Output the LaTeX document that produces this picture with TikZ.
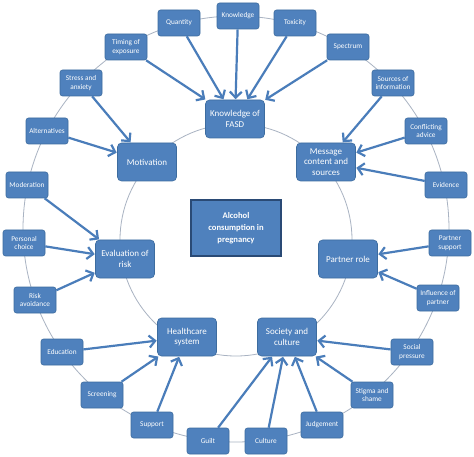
\documentclass[tikz,border=0pt]{standalone}
\usepackage{fontspec}
\setmainfont{Carlito}
\usetikzlibrary{arrows.meta}
\definecolor{boxblue}{HTML}{4F81BD}
\definecolor{boxedge}{HTML}{3D6C9F}
\definecolor{darkedge}{HTML}{2A4A75}
\definecolor{ring}{HTML}{A9B3C2}
\definecolor{arrowblue}{HTML}{4A7DBA}
\tikzset{
  smallbox/.style={draw=boxedge, line width=0.6pt, fill=boxblue, rounded corners=2.5pt,
    minimum width=42pt, minimum height=26pt, inner sep=1pt, align=center,
    text=white, font=\fontsize{7.3}{8.6}\selectfont},
  mainbox/.style={draw=boxedge, line width=0.6pt, fill=boxblue, rounded corners=4pt,
    minimum width=59pt, minimum height=38pt, inner sep=1pt, align=center,
    text=white, font=\fontsize{9}{10.5}\selectfont},
  centerbox/.style={draw=darkedge, line width=1.4pt, fill=boxblue,
    minimum width=90pt, minimum height=56pt, inner sep=1pt, align=center,
    text=white, font=\bfseries\fontsize{8.6}{12}\selectfont},
  feed/.style={draw=arrowblue, line width=2.2pt,
    -{Straight Barb[length=6pt,width=12pt]}, shorten >=0.5pt},
  ringline/.style={draw=ring, line width=0.8pt}
}
\begin{document}
\begin{tikzpicture}[x=1pt,y=-1pt]
\useasboundingbox (0,0) rectangle (474,457);
\fill[white] (0,0) rectangle (474,457);
% rings
\draw[ringline] (236,229) circle (213);
\draw[ringline] (236,240) circle (116);
% central
\node[centerbox] (alc) at (236,228) {Alcohol\\consumption in\\pregnancy};
% main nodes
\node[mainbox] (kof) at (235,119) {Knowledge of\\FASD};
\node[mainbox] (mot) at (147,162) {Motivation};
\node[mainbox] (msg) at (326,162) {Message\\content and\\sources};
\node[mainbox] (eval) at (125,259) {Evaluation of\\risk};
\node[mainbox] (part) at (348,259) {Partner role};
\node[mainbox] (hc) at (187,337) {Healthcare\\system};
\node[mainbox] (soc) at (287,337) {Society and\\culture};
% small nodes
\node[smallbox] (know) at (238,16) {Knowledge};
\node[smallbox] (quan) at (179,23) {Quantity};
\node[smallbox] (tox) at (295,23) {Toxicity};
\node[smallbox] (tim) at (126,47) {Timing of\\exposure};
\node[smallbox] (spec) at (348,47) {Spectrum};
\node[smallbox] (stress) at (81,83) {Stress and\\anxiety};
\node[smallbox] (src) at (393,83) {Sources of\\information};
\node[smallbox] (alt) at (47,131) {Alternatives};
\node[smallbox] (conf) at (426,131) {Conflicting\\advice};
\node[smallbox] (mod) at (27,185) {Moderation};
\node[smallbox] (evid) at (446,185) {Evidence};
\node[smallbox] (pers) at (24,243) {Personal\\choice};
\node[smallbox] (psup) at (450,243) {Partner\\support};
\node[smallbox] (risk) at (35,300) {Risk\\avoidance};
\node[smallbox] (infl) at (438,298) {Influence of\\partner};
\node[smallbox] (edu) at (62,352) {Education};
\node[smallbox] (spr) at (412,352) {Social\\pressure};
\node[smallbox] (scr) at (102,395) {Screening};
\node[smallbox] (stig) at (372,395) {Stigma and\\shame};
\node[smallbox] (sup) at (152,425) {Support};
\node[smallbox] (judg) at (322,425) {Judgement};
\node[smallbox] (guilt) at (208,441) {Guilt};
\node[smallbox] (cult) at (266,441) {Culture};
% arrows
\draw[feed] (tim) -- (kof);
\draw[feed] (quan) -- (kof);
\draw[feed] (know) -- (kof);
\draw[feed] (tox) -- (kof);
\draw[feed] (spec) -- (kof);
\draw[feed] (stress) -- (mot);
\draw[feed] (alt) -- (mot);
\draw[feed] (src) -- (msg);
\draw[feed] (conf) -- (msg);
\draw[feed] (evid) -- (msg);
\draw[feed] (mod) -- (eval);
\draw[feed] (pers) -- (eval);
\draw[feed] (risk) -- (eval);
\draw[feed] (psup) -- (part);
\draw[feed] (infl) -- (part);
\draw[feed] (edu) -- (hc);
\draw[feed] (scr) -- (hc);
\draw[feed] (sup) -- (hc);
\draw[feed] (guilt) -- (soc);
\draw[feed] (cult) -- (soc);
\draw[feed] (judg) -- (soc);
\draw[feed] (stig) -- (soc);
\draw[feed] (spr) -- (soc);
\end{tikzpicture}
\end{document}
